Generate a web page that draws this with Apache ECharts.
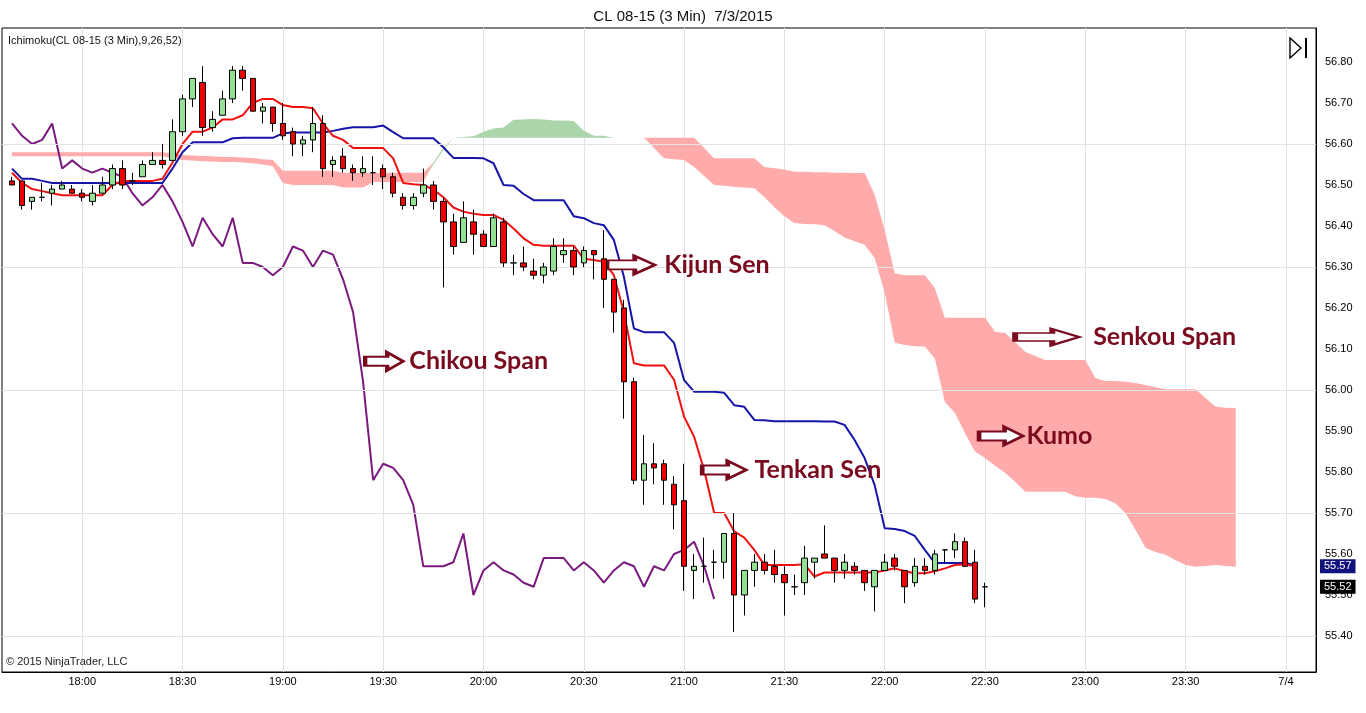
<!DOCTYPE html>
<html><head><meta charset="utf-8">
<script src="https://cdn.jsdelivr.net/npm/echarts@6/dist/echarts.min.js"></script>
<style>html,body{margin:0;padding:0;background:#fff;overflow:hidden}#c{width:1366px;height:713px}</style>
</head><body><div id="c"></div>
<script>
// ---------- axis definitions ----------
const firstCategoryMinute = 17 * 60 + 36;   // 17:36, left edge of the plot
const minutesPerBar = 3;
const categoryCount = 132;                  // 17:36 .. 00:09
const xTickLabels = ['18:00','18:30','19:00','19:30','20:00','20:30','21:00','21:30','22:00','22:30','23:00','23:30','00:00'];
const xLabelRename = { '00:00': '7/4' };
const yTickLabels = [55.40,55.50,55.60,55.70,55.80,55.90,56.00,56.10,56.20,56.30,56.40,56.50,56.60,56.70,56.80];
const yGridLines = [55.40,55.70,56.00,56.30,56.60];

// ---------- price bars 17:39 .. 22:30 ----------
const barOpen = [
56.51,56.51,56.46,56.47,56.48,56.49,56.49,56.48,56.46,56.48,
56.50,56.54,56.51,56.52,56.55,56.56,56.56,56.63,56.71,56.75,
56.64,56.67,56.71,56.78,56.76,56.68,56.69,56.65,56.63,56.60,
56.61,56.65,56.55,56.57,56.54,56.53,56.53,56.54,56.52,56.47,
56.45,56.48,56.50,56.46,56.41,56.36,56.41,56.38,56.35,56.41,
56.31,56.31,56.29,56.28,56.29,56.33,56.34,56.31,56.34,56.32,
56.27,56.20,56.02,55.78,55.82,55.82,55.77,55.73,55.56,55.57,
55.58,55.58,55.65,55.50,55.56,55.58,55.57,55.55,55.52,55.53,
55.58,55.60,55.59,55.56,55.57,55.56,55.52,55.56,55.59,55.56,
55.53,55.57,55.56,55.61,55.61,55.63,55.58,55.52];
const barHigh = [
56.52,56.51,56.47,56.505,56.50,56.51,56.50,56.49,56.50,56.52,
56.55,56.56,56.53,56.56,56.58,56.60,56.66,56.72,56.76,56.79,
56.68,56.73,56.79,56.79,56.76,56.70,56.69,56.70,56.64,56.62,
56.69,56.67,56.57,56.59,56.55,56.57,56.57,56.55,56.53,56.48,
56.48,56.54,56.51,56.47,56.43,56.46,56.44,56.39,56.43,56.42,
56.33,56.35,56.32,56.31,56.37,56.37,56.35,56.35,56.34,56.39,
56.27,56.22,56.03,55.89,55.87,55.83,55.79,55.82,55.60,55.64,
55.61,55.65,55.70,55.56,55.60,55.60,55.61,55.57,55.55,55.62,
55.59,55.67,55.59,55.60,55.58,55.56,55.56,55.60,55.60,55.56,
55.59,55.59,55.61,55.61,55.65,55.64,55.61,55.53];
const barLow = [
56.50,56.44,56.44,56.46,56.45,56.49,56.48,56.46,56.45,56.48,
56.49,56.49,56.50,56.52,56.55,56.54,56.56,56.62,56.69,56.62,
56.63,56.67,56.70,56.73,56.68,56.65,56.63,56.61,56.57,56.57,
56.58,56.52,56.52,56.53,56.51,56.52,56.50,56.49,56.47,56.44,
56.44,56.47,56.44,56.25,56.33,56.36,56.33,56.35,56.35,56.30,
56.28,56.29,56.27,56.26,56.28,56.31,56.28,56.30,56.27,56.20,
56.14,55.93,55.77,55.72,55.77,55.72,55.66,55.51,55.49,55.53,
55.54,55.54,55.41,55.45,55.52,55.55,55.53,55.45,55.50,55.50,
55.54,55.59,55.53,55.54,55.55,55.51,55.46,55.56,55.56,55.48,
55.52,55.55,55.55,55.58,55.59,55.57,55.48,55.47];
const barClose = [
56.50,56.45,56.47,56.47,56.49,56.50,56.48,56.47,56.48,56.50,
56.54,56.50,56.51,56.55,56.56,56.55,56.63,56.71,56.76,56.64,
56.66,56.71,56.78,56.76,56.68,56.69,56.65,56.62,56.60,56.61,
56.65,56.54,56.56,56.54,56.53,56.54,56.53,56.52,56.48,56.45,
56.47,56.50,56.46,56.41,56.35,56.42,56.38,56.35,56.42,56.31,
56.31,56.30,56.28,56.30,56.35,56.34,56.30,56.34,56.33,56.27,
56.19,56.02,55.78,55.82,55.81,55.78,55.72,55.57,55.57,55.57,
55.58,55.65,55.50,55.56,55.58,55.56,55.55,55.53,55.52,55.59,
55.59,55.59,55.56,55.58,55.56,55.53,55.56,55.58,55.57,55.52,
55.57,55.56,55.60,55.61,55.63,55.57,55.49,55.52];

// ---------- Ichimoku lines ----------
const tenkanSen = [
56.53,56.505,56.49,56.485,56.48,56.475,56.475,56.475,56.475,56.475,
56.50,56.51,56.51,56.51,56.51,56.515,56.555,56.60,56.63,56.63,
56.64,56.66,56.66,56.67,56.70,56.71,56.71,56.695,56.69,56.69,
56.687,56.65,56.62,56.61,56.59,56.59,56.59,56.59,56.565,56.505,
56.502,56.50,56.489,56.47,56.445,56.435,56.43,56.427,56.427,56.415,
56.394,56.37,56.354,56.352,56.352,56.352,56.352,56.32,56.317,56.313,
56.28,56.19,56.065,56.06,56.06,56.06,56.025,55.935,55.886,55.805,
55.70,55.70,55.655,55.64,55.61,55.573,55.573,55.573,55.573,55.575,
55.545,55.555,55.555,55.555,55.555,55.555,55.555,55.56,55.565,55.558,
55.553,55.553,55.558,55.565,55.573,55.575,55.57];
const kijunSen = [
56.54,56.515,56.515,56.51,56.505,56.505,56.505,56.505,56.505,56.505,
56.505,56.505,56.505,56.505,56.505,56.505,56.54,56.58,56.604,56.604,
56.604,56.604,56.614,56.615,56.615,56.615,56.615,56.626,56.628,56.628,
56.628,56.628,56.632,56.637,56.641,56.641,56.641,56.645,56.629,56.614,
56.614,56.614,56.614,56.592,56.566,56.566,56.566,56.565,56.553,56.50,
56.498,56.478,56.463,56.463,56.463,56.463,56.424,56.419,56.407,56.402,
56.366,56.276,56.15,56.141,56.141,56.141,56.115,56.024,55.996,55.996,
55.996,55.993,55.963,55.959,55.927,55.926,55.924,55.924,55.924,55.924,
55.924,55.923,55.923,55.915,55.878,55.834,55.768,55.663,55.661,55.656,
55.644,55.61,55.578,55.578,55.578,55.578,55.573];
const chikouSpan = [
56.65,56.62,56.60,56.61,56.65,56.54,56.56,56.54,56.53,56.54,
56.53,56.52,56.48,56.45,56.47,56.50,56.46,56.41,56.35,56.42,
56.38,56.35,56.42,56.31,56.31,56.30,56.28,56.30,56.35,56.34,
56.30,56.34,56.33,56.27,56.19,56.02,55.78,55.82,55.81,55.78,
55.72,55.57,55.57,55.57,55.58,55.65,55.50,55.56,55.58,55.56,
55.55,55.53,55.52,55.59,55.59,55.59,55.56,55.58,55.56,55.53,
55.56,55.58,55.57,55.52,55.57,55.56,55.60,55.61,55.63,55.57,
55.49];
// Senkou spans, plotted from 17:39 to 23:45
const senkouA = [
56.57,56.57,56.57,56.57,56.57,56.57,56.57,56.57,56.57,56.57,
56.57,56.57,56.57,56.57,56.57,56.57,56.565,56.561,56.56,56.558,
56.557,56.556,56.556,56.555,56.553,56.55,56.546,56.505,56.50,56.50,
56.50,56.50,56.50,56.494,56.494,56.494,56.507,56.507,56.507,56.507,
56.507,56.507,56.555,56.59,56.615,56.617,56.619,56.63,56.638,56.64,
56.659,56.66,56.661,56.66,56.657,56.657,56.656,56.632,56.62,56.62,
56.615,56.615,56.615,56.615,56.59,56.565,56.563,56.561,56.544,56.522,
56.50,56.498,56.495,56.494,56.492,56.471,56.446,56.424,56.407,56.405,
56.404,56.402,56.388,56.372,56.363,56.354,56.322,56.237,56.115,56.11,
56.107,56.106,56.077,55.971,55.944,55.895,55.85,55.834,55.815,55.798,
55.776,55.752,55.752,55.752,55.752,55.752,55.741,55.737,55.737,55.734,
55.724,55.70,55.659,55.615,55.605,55.598,55.585,55.573,55.569,55.571,
55.573,55.571,55.569];
const senkouB = [
56.58,56.58,56.58,56.58,56.58,56.58,56.58,56.58,56.58,56.58,
56.58,56.58,56.58,56.58,56.58,56.58,56.577,56.573,56.572,56.571,
56.57,56.568,56.568,56.567,56.566,56.563,56.561,56.535,56.535,56.535,
56.535,56.535,56.535,56.53,56.53,56.53,56.53,56.53,56.53,56.53,
56.53,56.53,56.55,56.585,56.615,56.615,56.615,56.615,56.615,56.615,
56.615,56.615,56.615,56.615,56.615,56.615,56.615,56.615,56.615,56.615,
56.615,56.615,56.615,56.615,56.615,56.615,56.615,56.615,56.615,56.59,
56.565,56.565,56.565,56.565,56.565,56.544,56.541,56.538,56.532,56.532,
56.531,56.531,56.53,56.53,56.529,56.529,56.476,56.39,56.285,56.28,
56.28,56.28,56.249,56.176,56.176,56.176,56.176,56.176,56.142,56.139,
56.117,56.093,56.083,56.073,56.073,56.073,56.073,56.073,56.029,56.022,
56.022,56.02,56.017,56.012,56.007,56.002,56.002,56.002,56.002,55.98,
55.959,55.957,55.956];

// ---------- annotations (category time, price) ----------
const annotations = [
  { text: 'Kijun Sen',   time: '20:45', price: 56.305, arrow: [48, 18], shift: -3, gap: 7 },
  { text: 'Chikou Span', time: '19:30', price: 56.07,  arrow: [38, 18], shift: 1,  gap: 4 },
  { text: 'Tenkan Sen',  time: '21:12', price: 55.805, arrow: [44, 18], shift: 0,  gap: 6 },
  { text: 'Senkou Span', time: '22:48', price: 56.129, arrow: [64, 16], shift: 2,  gap: 11 },
  { text: 'Kumo',        time: '22:36', price: 55.888, arrow: [44, 18], shift: -4, gap: 1 }
];

// ---------- build structures ----------
const pad2 = n => (n < 10 ? '0' : '') + n;
const categories = [];
for (let i = 0; i < categoryCount; i++) {
  const m = firstCategoryMinute + i * minutesPerBar;
  categories.push(pad2(Math.floor(m / 60) % 24) + ':' + pad2(m % 60));
}
const firstBarIndex = categories.indexOf('17:39');
function place(arr) {
  const out = new Array(categoryCount).fill('-');
  arr.forEach((v, i) => { out[firstBarIndex + i] = v; });
  return out;
}
const candleData = new Array(categoryCount).fill(null).map(() => ['-', '-', '-', '-']);
barOpen.forEach((o, i) => { candleData[firstBarIndex + i] = [o, barClose[i], barLow[i], barHigh[i]]; });

const cloudBase = place(senkouA.map((a, i) => Math.min(a, senkouB[i])));
const cloudUp = place(senkouA.map((a, i) => Math.max(0, +(a - senkouB[i]).toFixed(4))));
const cloudDown = place(senkouA.map((a, i) => Math.max(0, +(senkouB[i] - a).toFixed(4))));

const lastKijun = kijunSen[kijunSen.length - 1];
const lastClose = barClose[barClose.length - 1];

const isTick = (idx, v) => xTickLabels.indexOf(v) >= 0;
const maroon = '#7a0a1e';
const arrowPath = 'path://M0,5 L58,5 L58,0 L100,10 L58,20 L58,15 L0,15 Z';

const chart = echarts.init(document.getElementById('c'), null, { renderer: 'canvas' });
chart.setOption({
  animation: false,
  backgroundColor: '#fff',
  textStyle: { fontFamily: 'Liberation Sans, Arial, sans-serif' },
  title: [
    { text: 'CL 08-15 (3 Min)  7/3/2015', left: 'center', top: 4,
      textStyle: { fontSize: 15, fontWeight: 'normal', color: '#111', fontFamily: 'Liberation Sans' } },
    { text: 'Ichimoku(CL 08-15 (3 Min),9,26,52)', left: 3, top: 30,
      textStyle: { fontSize: 11, fontWeight: 'normal', color: '#111', fontFamily: 'Liberation Sans' } },
    { text: '\u00A9 2015 NinjaTrader, LLC', left: 1, top: 651,
      textStyle: { fontSize: 11, fontWeight: 'normal', color: '#222', fontFamily: 'Liberation Sans' } }
  ],
  grid: { left: 2, right: 50, top: 28, bottom: 41, show: true, borderColor: '#000', borderWidth: 1, backgroundColor: 'transparent' },
  xAxis: {
    type: 'category', data: categories, boundaryGap: false,
    axisLine: { show: true, lineStyle: { color: '#000' } },
    axisTick: { show: false },
    axisLabel: { interval: isTick, formatter: v => xLabelRename[v] || v, fontSize: 11, color: '#000', margin: 4 },
    splitLine: { show: true, interval: isTick, lineStyle: { color: '#e2e2e2', width: 1 } }
  },
  yAxis: {
    type: 'value', position: 'right', min: 55.3122, max: 56.8829, scale: true,
    axisLine: { show: true, lineStyle: { color: '#000' } },
    axisTick: { show: false },
    axisLabel: { customValues: yTickLabels, formatter: v => v.toFixed(2), fontSize: 11, color: '#000', margin: 9 },
    splitLine: { show: false }
  },
  graphic: [
    { type: 'polygon', shape: { points: [[1290, 38], [1301, 48], [1290, 58]] }, style: { fill: 'none', stroke: '#000', lineWidth: 1.4 } },
    { type: 'line', shape: { x1: 1306, y1: 38, x2: 1306, y2: 58 }, style: { stroke: '#000', lineWidth: 2 } }
  ],
  series: [
    { name: 'cloudBase', type: 'line', stack: 'kumo', data: cloudBase, z: 1, showSymbol: false, silent: true,
      lineStyle: { width: 0, opacity: 0 },
      markLine: { silent: true, symbol: ['none', 'none'], label: { show: false },
        lineStyle: { color: '#e2e2e2', type: 'solid', width: 1 },
        data: yGridLines.map(v => ({ yAxis: v })) } },
    { name: 'cloudUp', type: 'line', stack: 'kumo', data: cloudUp, z: 1, showSymbol: false, silent: true,
      lineStyle: { width: 0, opacity: 0 }, areaStyle: { color: '#abd6ab', opacity: 1 } },
    { name: 'cloudDown', type: 'line', stack: 'kumo', data: cloudDown, z: 1, showSymbol: false, silent: true,
      lineStyle: { width: 0, opacity: 0 }, areaStyle: { color: '#ffabab', opacity: 1 } },
    { name: 'Chikou', type: 'line', data: place(chikouSpan), z: 3, showSymbol: false, silent: true,
      lineStyle: { width: 2, color: '#7b1a7e' } },
    { name: 'Kijun', type: 'line', data: place(kijunSen), z: 3, showSymbol: false, silent: true,
      lineStyle: { width: 2, color: '#1515a8' } },
    { name: 'Tenkan', type: 'line', data: place(tenkanSen), z: 3, showSymbol: false, silent: true,
      lineStyle: { width: 2, color: '#f01010' } },
    { name: 'Price', type: 'candlestick', data: candleData, z: 5, barWidth: 6, silent: true,
      itemStyle: { color: '#93e093', color0: '#ee0000', borderColor: '#000', borderColor0: '#000', borderColorDoji: '#000', borderWidth: 1 } },
    { name: 'LastValues', type: 'line', data: [], z: 9, silent: true, clip: false,
      markLine: { silent: true, symbol: ['none', 'none'], precision: 2,
        lineStyle: { color: 'rgba(0,0,0,0)', width: 0, type: 'solid' },
        label: { show: true, position: 'end', distance: 4, color: '#fff', padding: [2, 4, 1, 4], fontSize: 11, fontFamily: 'Liberation Sans' },
        data: [
          { yAxis: lastKijun, label: { formatter: lastKijun.toFixed(2), backgroundColor: '#12127e' } },
          { yAxis: lastClose, label: { formatter: lastClose.toFixed(2), backgroundColor: '#000' } }
        ] } },
    { name: 'Notes', type: 'line', data: [], z: 8, silent: true,
      markPoint: {
        silent: true,
        data: annotations.map(a => ({
          coord: [categories.indexOf(a.time), a.price],
          symbol: arrowPath, symbolSize: a.arrow, symbolOffset: [a.shift, 0], symbolKeepAspect: false,
          itemStyle: { color: '#fff', borderColor: maroon, borderWidth: 3 },
          label: { show: true, position: 'right', distance: a.gap, formatter: a.text,
            color: maroon, fontSize: 25, fontWeight: 'bold', fontFamily: 'Lato' }
        }))
      } }
  ]
});
</script>
</body></html>
